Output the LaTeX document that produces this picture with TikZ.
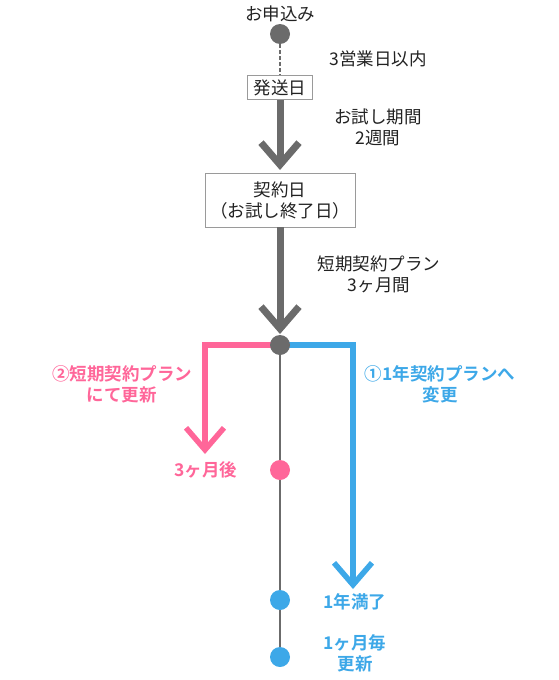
\documentclass[tikz,border=0pt]{standalone}
\usepackage{fontspec}
\setmainfont{Noto Sans CJK JP}[BoldFont={Noto Sans CJK JP Bold}]
\usetikzlibrary{arrows.meta}
\definecolor{cgray}{HTML}{6B6B6B}
\definecolor{cpink}{HTML}{FF6699}
\definecolor{cblue}{HTML}{3DA8E8}
\definecolor{cbox}{HTML}{9A9A9A}
\definecolor{ctext}{HTML}{222222}
\begin{document}
\begin{tikzpicture}[x=1pt,y=-1pt,
  every node/.style={font=\fontsize{17.5}{21}\selectfont, text=ctext, align=center, inner sep=0pt},
  dot/.style={circle, minimum size=20pt, inner sep=0pt, fill=#1},
  datebox/.style={draw=cbox, line width=0.9pt, fill=white, inner xsep=6pt, inner ysep=4pt},
  lbl/.style={},
  pinklbl/.style={text=cpink, font=\fontsize{17.5}{21}\selectfont\bfseries},
  bluelbl/.style={text=cblue, font=\fontsize{17.5}{21}\selectfont\bfseries},
  bigarrow/.style={line width=#1, -{Straight Barb[length=22pt, width=38pt, line width=#1]}},
]
\useasboundingbox (0,0) rectangle (559,680);

% nodes
\node[lbl] (moushi) at (280,14) {お申込み};
\node[dot=cgray] (d0) at (280,34) {};
\node[datebox] (hasso) at (280,87.5) {発送日};
\node[datebox, inner xsep=5pt, minimum height=54pt] (keiyaku) at (280,200) {契約日\\（お試し終了日）};
\node[lbl] (t1) at (378,59) {3営業日以内};
\node[lbl] (t2) at (378,127) {お試し期間\\2週間};
\node[lbl] (t3) at (379,274) {短期契約プラン\\3ヶ月間};
\node[pinklbl] (pl) at (122,384) {②短期契約プラン\\にて更新};
\node[bluelbl] (bl) at (440,384) {①1年契約プランへ\\変更};
\node[pinklbl] (p3) at (206,470) {3ヶ月後};
\node[bluelbl] (b1) at (355,602) {1年満了};
\node[bluelbl] (b2) at (355,653) {1ヶ月毎\\更新};

\coordinate (tip1) at (280,170);
\coordinate (tip2) at (280,334);
\coordinate (ptip) at (205,454);
\coordinate (btip) at (353,589);

% connectors
\draw[cgray, line width=1.4pt, dash pattern=on 4pt off 2pt] (d0) -- (hasso.north);
\draw[cgray, bigarrow=7pt] (hasso.south) -- (tip1);
\draw[cgray, bigarrow=7pt] (keiyaku.south) -- (tip2);

\coordinate (jc) at (280,345);
\draw[cgray, line width=2.5pt] (jc) -- (280,657);
\draw[cpink, bigarrow=5.5pt] (jc) -| (ptip);
\draw[cblue, bigarrow=5.5pt] (jc) -| (btip);

\node[dot=cgray] (j) at (jc) {};
\node[dot=cpink] (dp) at (280,470) {};
\node[dot=cblue] (db1) at (280,600) {};
\node[dot=cblue] (db2) at (280,657) {};
\end{tikzpicture}
\end{document}
